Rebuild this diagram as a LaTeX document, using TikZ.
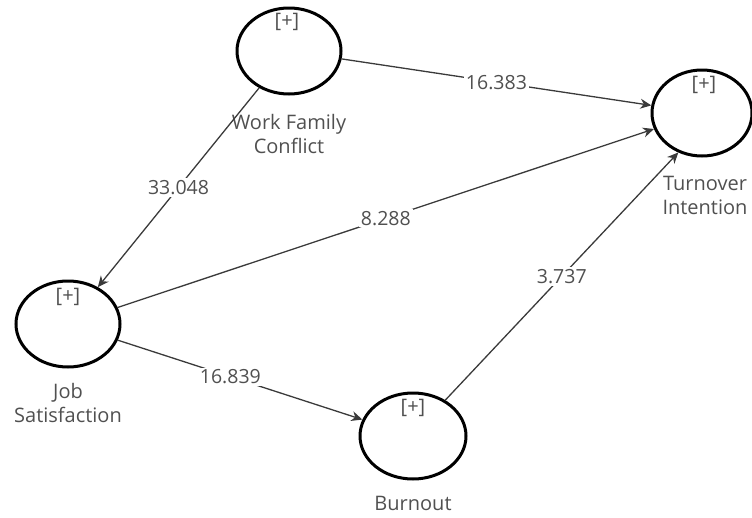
\documentclass[tikz,border=0pt]{standalone}
\usepackage{fontspec}
\setmainfont{Open Sans}
\usetikzlibrary{shapes.geometric,arrows.meta}
\definecolor{txt}{HTML}{505050}
\definecolor{ln}{HTML}{3A3A3A}
\tikzset{
  lv/.style={ellipse,draw=black,line width=3pt,minimum width=104pt,minimum height=86pt,inner sep=0pt},
  plustxt/.style={text=txt,font=\fontsize{20}{20}\selectfont},
  lvlabel/.style={text=txt,font=\fontsize{20}{24}\selectfont,align=center},
  conn/.style={draw=ln,line width=1.3pt,-{Stealth[length=11pt,width=10pt]}},
  val/.style={fill=white,text=txt,font=\fontsize{19.5}{20}\selectfont,inner sep=2pt},
}
\begin{document}
\begin{tikzpicture}[x=1pt,y=-1pt]
\useasboundingbox (0,0) rectangle (752,517);
\node[lv] (wfc) at (289,51) {};
\node[lv,minimum width=100pt] (ti) at (702,113) {};
\node[lv] (js) at (68,324) {};
\node[lv,minimum width=106pt] (bo) at (413,436) {};
\node[plustxt] (wfcp) at (287,22) {[+]};
\node[plustxt] (tip) at (704,85) {[+]};
\node[plustxt] (jsp) at (68,297) {[+]};
\node[plustxt] (bop) at (413,408) {[+]};
\node[lvlabel] (wfcn) at (289,134) {Work Family\\Conflict};
\node[lvlabel] (tin) at (705,195) {Turnover\\Intention};
\node[lvlabel] (jsn) at (68,403) {Job\\Satisfaction};
\node[lvlabel] (bon) at (413,503) {Burnout};
\draw[conn] (wfc) -- node[val,pos=0.5] {16.383} (ti);
\draw[conn] (wfc) -- node[val,pos=0.5] {33.048} (js);
\draw[conn] (js) -- node[val,pos=0.5] {8.288} (ti);
\draw[conn] (js) -- node[val,pos=0.46] {16.839} (bo);
\draw[conn] (bo.48) -- node[val,pos=0.5] {3.737} (ti.239);
\end{tikzpicture}
\end{document}
